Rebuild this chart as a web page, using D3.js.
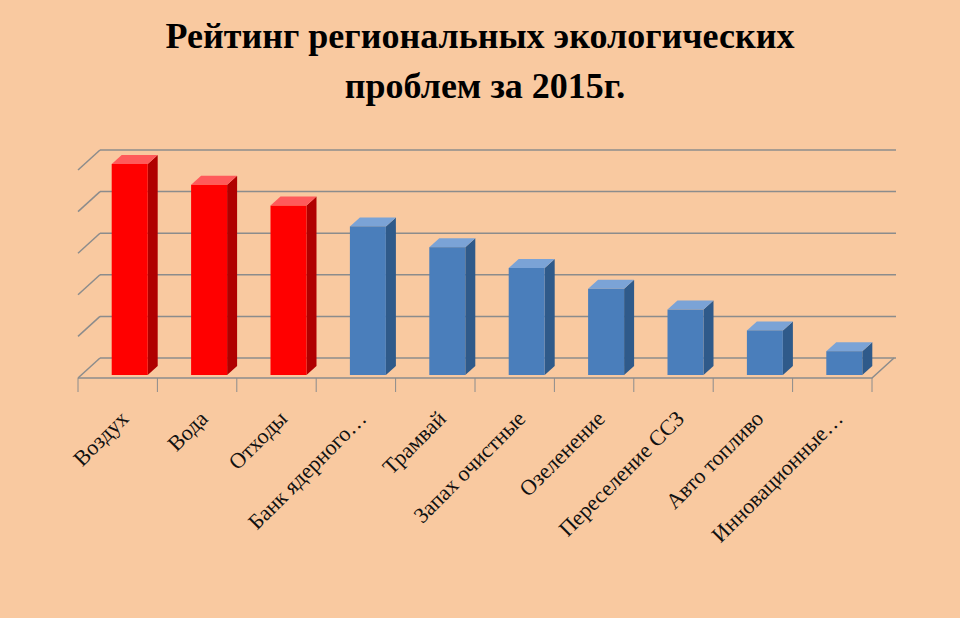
<!DOCTYPE html><html><head><meta charset="utf-8">
<script src="https://cdn.jsdelivr.net/npm/d3@7"></script>
<style>body{margin:0;background:#F9C9A0}</style></head><body>
<svg id="c" width="960" height="618"></svg>
<script>
const categories=["Воздух","Вода","Отходы","Банк ядерного…","Трамвай","Запах очистные","Озеленение","Переселение ССЗ","Авто топливо","Инновационные…"];
const values=[10,9,8,7,6,5,4,3,2,1];
const highlight=[true,true,true,false,false,false,false,false,false,false];
const gridValues=[0,2,4,6,8,10];

const svg=d3.select("#c");
svg.append("rect").attr("width",960).attr("height",618).attr("fill","#F9C9A0");
svg.append("text").attr("x",480).attr("y",48).attr("text-anchor","middle")
 .attr("font-family","Liberation Serif").attr("font-weight","bold").attr("font-size",36).text("Рейтинг региональных экологических");
svg.append("text").attr("x",485).attr("y",98).attr("text-anchor","middle")
 .attr("font-family","Liberation Serif").attr("font-weight","bold").attr("font-size",36).text("проблем за 2015г.");

const x=d3.scaleBand().domain(categories).range([78,872]);
const y=d3.scaleLinear().domain([0,10]).range([378,170]);
const DX=22,DY=-20;
const g=svg.append("g");
gridValues.forEach(v=>{
  const yy=y(v);
  g.append("line").attr("x1",78+DX).attr("x2",872+DX+2).attr("y1",yy+DY).attr("y2",yy+DY).attr("stroke","#8c8c8c").attr("stroke-width",1.5);
  g.append("line").attr("x1",78).attr("x2",78+DX).attr("y1",yy).attr("y2",yy+DY).attr("stroke","#8c8c8c").attr("stroke-width",1.5);
});
g.append("path").attr("d",`M78,${y(0)}L${872},${y(0)}L${872+DX},${y(0)+DY}`).attr("fill","none").attr("stroke","#8c8c8c").attr("stroke-width",1.5);
g.append("line").attr("x1",78).attr("x2",78).attr("y1",y(0)).attr("y2",y(0)+14).attr("stroke","#8c8c8c");
categories.forEach(c=>{const xx=x(c)+x.bandwidth();
 g.append("line").attr("x1",xx).attr("x2",xx).attr("y1",y(0)).attr("y2",y(0)+14).attr("stroke","#8c8c8c");});

const bw=36,bdx=10,bdy=-9;
categories.forEach((c,i)=>{
  const x0=x(c)+(x.bandwidth()-bw)/2+12, y0=y(values[i])-6, yb=y(0)-3;
  const red=highlight[i];
  const front=red?"#FF0000":"#4A7EBB",side=red?"#B00000":"#2F5A8A",top=red?"#FF5A5A":"#7BA3D6";
  g.append("path").attr("d",`M${x0+bw},${y0}L${x0+bw+bdx},${y0+bdy}L${x0+bw+bdx},${yb+bdy}L${x0+bw},${yb}Z`).attr("fill",side);
  g.append("path").attr("d",`M${x0},${y0}L${x0+bdx},${y0+bdy}L${x0+bw+bdx},${y0+bdy}L${x0+bw},${y0}Z`).attr("fill",top);
  g.append("rect").attr("x",x0).attr("y",y0).attr("width",bw).attr("height",yb-y0).attr("fill",front);
  const cx=x(c)+x.bandwidth()/2+12;
  g.append("text").attr("transform",`translate(${cx},${y(0)+42}) rotate(-45)`).attr("text-anchor","end")
   .attr("font-family","Liberation Serif").attr("font-size",22).attr("fill","#111").text(c);
});
</script></body></html>
